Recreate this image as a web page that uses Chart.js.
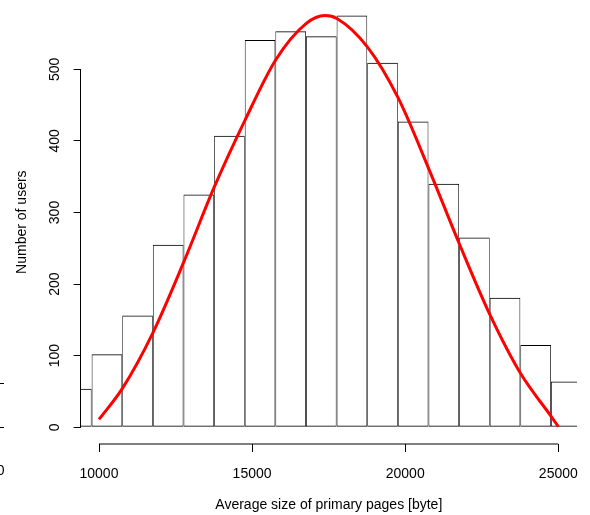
<!DOCTYPE html>
<html>
<head>
<meta charset="utf-8">
<script src="https://cdn.jsdelivr.net/npm/chart.js@4.4.0/dist/chart.umd.min.js"></script>
<style>
  html, body { margin: 0; padding: 0; background: #fff; }
  #wrap { width: 590px; height: 515px; position: relative; }
</style>
</head>
<body>
<div id="wrap"><canvas id="histChart"></canvas></div>
<script>
// histogram: left edge of each 1000-byte bin and its count
var binWidth = 1000;
var binStarts = [8760, 9760, 10760, 11760, 12760, 13760, 14760, 15760, 16760,
                 17760, 18760, 19760, 20760, 21760, 22760, 23760, 24760];
var binCounts = [54, 102, 156, 255, 325, 407, 541, 553, 546,
                 575, 509, 427, 340, 265, 181, 115, 64];

// fitted density curve, scaled to counts
var curveX = [10000, 10760, 11760, 12770, 13770, 14770, 15770, 16770, 17380,
              17770, 18770, 19770, 20770, 21770, 22770, 23770, 24770, 25000];
var curveY = [11, 54, 132, 231, 336, 429, 513, 564, 575,
              571, 531, 460, 361, 256, 157, 75, 15, 1];

var xTicks = [10000, 15000, 20000, 25000];
var yTicks = [0, 100, 200, 300, 400, 500];

var FONT = '"Liberation Sans", Arial, Helvetica, sans-serif';

// R-style axis lines: x axis hangs below the plot and only spans its ticks
var axisLines = {
  id: 'axisLines',
  afterDraw: function(chart) {
    var ctx = chart.ctx;
    var xs = chart.scales.x, ys = chart.scales.y;
    var area = chart.chartArea;
    ctx.save();
    ctx.strokeStyle = '#000';
    ctx.lineWidth = 1;

    var yLine = 444;
    ctx.beginPath();
    ctx.moveTo(xs.getPixelForValue(xTicks[0]), yLine);
    ctx.lineTo(xs.getPixelForValue(xTicks[xTicks.length - 1]), yLine);
    ctx.stroke();
    ctx.beginPath();
    xTicks.forEach(function(v) {
      var p = Math.round(xs.getPixelForValue(v)) + 0.5;
      ctx.moveTo(p, yLine);
      ctx.lineTo(p, yLine + 8);
    });
    ctx.stroke();

    var xLine = Math.round(area.left) - 0.5;
    ctx.beginPath();
    ctx.moveTo(xLine, ys.getPixelForValue(yTicks[0]));
    ctx.lineTo(xLine, ys.getPixelForValue(yTicks[yTicks.length - 1]));
    ctx.stroke();

    // stub ticks and label at the left edge
    ctx.beginPath();
    ctx.moveTo(0, 383.5); ctx.lineTo(4, 383.5);
    ctx.moveTo(0, 427.5); ctx.lineTo(4, 427.5);
    ctx.stroke();
    ctx.fillStyle = '#000';
    ctx.font = '14px ' + FONT;
    ctx.textAlign = 'right';
    ctx.textBaseline = 'middle';
    ctx.fillText('0', 4.5, 471);
    ctx.restore();
  }
};

var barData = binStarts.map(function(s, i) {
  return { x: s + binWidth / 2, y: binCounts[i] };
});
var curveData = curveX.map(function(x, i) {
  return { x: x, y: curveY[i] };
});

var ctx = document.getElementById('histChart').getContext('2d');
var histChart = new Chart(ctx, {
  type: 'bar',
  data: {
    datasets: [
      {
        type: 'line',
        data: curveData,
        borderColor: '#ff0000',
        borderWidth: 3,
        pointRadius: 0,
        fill: false,
        cubicInterpolationMode: 'monotone',
        clip: false,
        order: 0
      },
      {
        data: barData,
        backgroundColor: 'rgba(0,0,0,0)',
        borderColor: '#000',
        // thin sides so neighbouring bars share a single edge
        borderWidth: { top: 1, right: 0.7, bottom: 1, left: 0.7 },
        borderSkipped: false,
        inflateAmount: 0,
        barPercentage: 1,
        categoryPercentage: 1,
        clip: { left: 0, right: 0, top: 20, bottom: 0 },
        order: 1
      }
    ]
  },
  options: {
    responsive: true,
    maintainAspectRatio: false,
    animation: false,
    layout: { padding: { left: 0, right: 13, top: 17, bottom: 0 } },
    plugins: {
      legend: { display: false },
      tooltip: { enabled: false }
    },
    scales: {
      x: {
        type: 'linear',
        offset: false,
        min: 9400,
        max: 25610,
        afterBuildTicks: function(s) { s.ticks = xTicks.map(function(v) { return { value: v }; }); },
        afterFit: function(s) { s.height = 87.7; },
        // tick marks are drawn by axisLines; the hidden tick length only sets the label drop
        grid: { display: false, drawTicks: true, tickLength: 38 },
        border: { display: false },
        ticks: {
          padding: 0,
          color: '#000',
          maxRotation: 0,
          autoSkip: false,
          font: { family: FONT, size: 14 },
          callback: function(v) { return String(v); }
        },
        title: {
          display: true,
          text: 'Average size of primary pages [byte]',
          color: '#000',
          font: { family: FONT, size: 14 },
          padding: { top: 0, bottom: 1 }
        }
      },
      y: {
        min: 0,
        max: 573,
        afterBuildTicks: function(s) { s.ticks = yTicks.map(function(v) { return { value: v }; }); },
        afterFit: function(s) { s.width = 80.6; },
        grid: { drawOnChartArea: false, drawTicks: true, tickLength: 7, color: '#000' },
        border: { display: false },
        ticks: {
          minRotation: 90,
          maxRotation: 90,
          crossAlign: 'center',
          padding: 7,
          color: '#000',
          font: { family: FONT, size: 14 },
          callback: function(v) { return String(v); }
        },
        title: {
          display: true,
          text: 'Number of users',
          color: '#000',
          font: { family: FONT, size: 14 },
          padding: { top: 14, bottom: 0 }
        }
      }
    }
  },
  plugins: [axisLines]
});
</script>
</body>
</html>
